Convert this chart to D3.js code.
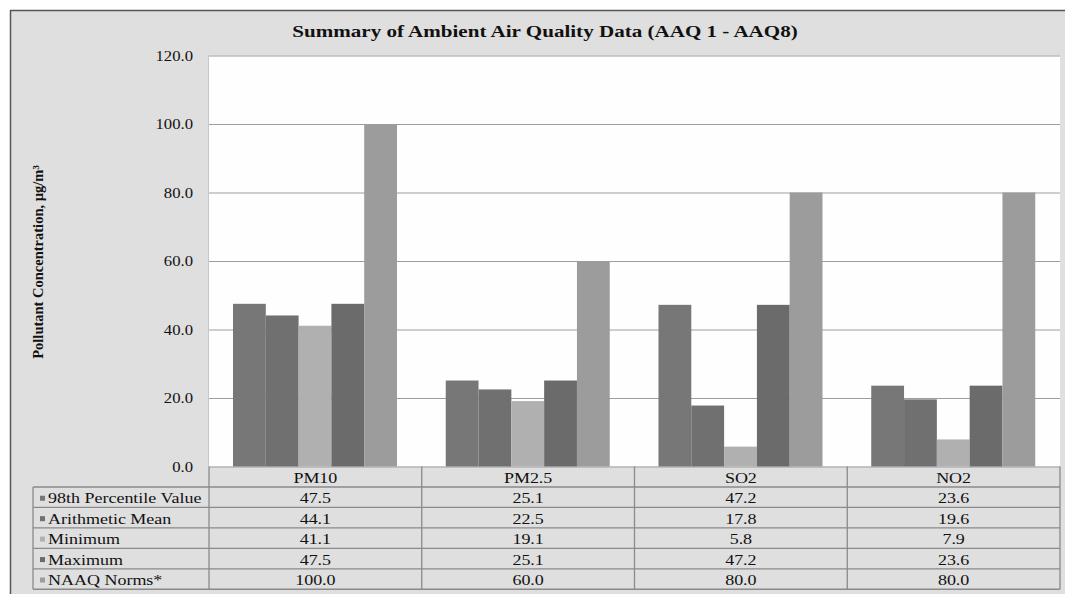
<!DOCTYPE html>
<html>
<head>
<meta charset="utf-8">
<script src="https://cdn.jsdelivr.net/npm/d3@7"></script>
<style>
  html, body { margin: 0; padding: 0; background: #ffffff; }
  svg { display: block; }
  text { font-family: "Liberation Serif", "Times New Roman", serif; fill: #111; }
</style>
</head>
<body>
<svg id="chart" width="1065" height="594"></svg>
<script>
// Pollutant categories and the five series shown per category (µg/m³)
const categories = ["PM10", "PM2.5", "SO2", "NO2"];
const seriesNames = ["98th Percentile Value", "Arithmetic Mean", "Minimum", "Maximum", "NAAQ Norms*"];
const percentile98 = [47.5, 25.1, 47.2, 23.6];
const arithmeticMean = [44.1, 22.5, 17.8, 19.6];
const minimum = [41.1, 19.1, 5.8, 7.9];
const maximum = [47.5, 25.1, 47.2, 23.6];
const naaqNorms = [100.0, 60.0, 80.0, 80.0];
const yTicks = [0, 20, 40, 60, 80, 100, 120];

const seriesValues = [percentile98, arithmeticMean, minimum, maximum, naaqNorms];
const seriesColors = ["#777777", "#707070", "#b0b0b0", "#6b6b6b", "#9c9c9c"];

const svg = d3.select("#chart");
const W = 1065, H = 594;

// layout
const plot = { left: 209, right: 1060, top: 55.5, bottom: 466.5 };
const tableLeft = 33;
const headerBottom = 487;
const rowH = 20.45;
const sx = 1.2; // horizontal stretch of the serif lettering

// outer chart frame
svg.append("rect").attr("x", 0).attr("y", 0).attr("width", W).attr("height", H).attr("fill", "#ffffff");
svg.append("rect").attr("x", 10).attr("y", 10).attr("width", W - 10).attr("height", H - 10)
  .attr("fill", "#dfdfdf");
svg.append("line").attr("x1", 10).attr("x2", W).attr("y1", 10.5).attr("y2", 10.5)
  .attr("stroke", "#555").attr("stroke-width", 1.5);
svg.append("line").attr("x1", 10.5).attr("x2", 10.5).attr("y1", 10).attr("y2", H)
  .attr("stroke", "#555").attr("stroke-width", 1.5);

// scales
const x0 = d3.scaleBand().domain(categories).range([plot.left, plot.right]).padding(0);
const x1 = d3.scaleBand().domain(seriesNames).range([24, 188]).padding(0);
const y = d3.scaleLinear().domain([0, 120]).range([plot.bottom, plot.top]);

// plot area
svg.append("rect").attr("x", plot.left).attr("y", plot.top)
  .attr("width", plot.right - plot.left).attr("height", plot.bottom - plot.top)
  .attr("fill", "#fefefe");
svg.append("line").attr("x1", plot.left - 0.5).attr("x2", plot.left - 0.5)
  .attr("y1", plot.top).attr("y2", plot.bottom).attr("stroke", "#c8c8c8");

// gridlines
const grid = svg.append("g").attr("transform", `translate(${plot.left},0)`)
  .call(d3.axisRight(y).tickValues(yTicks).tickSize(plot.right - plot.left).tickFormat(""));
grid.select(".domain").remove();
grid.selectAll(".tick line").attr("stroke", "#9e9e9e").attr("stroke-width", 1.2);

// bars
const seriesData = seriesNames.map((name, i) => ({
  name, color: seriesColors[i],
  values: categories.map((c, j) => ({ category: c, value: seriesValues[i][j] }))
}));
const gSeries = svg.append("g").selectAll("g").data(seriesData).join("g")
  .attr("fill", d => d.color);
gSeries.selectAll("rect").data(d => d.values.map(v => ({ ...v, name: d.name }))).join("rect")
  .attr("x", d => x0(d.category) + x1(d.name))
  .attr("y", d => y(d.value))
  .attr("width", x1.bandwidth())
  .attr("height", d => y(0) - y(d.value));

// y axis labels
const yAxis = svg.append("g").attr("transform", `translate(${plot.left},0)`)
  .call(d3.axisLeft(y).tickValues(yTicks).tickSize(0).tickPadding(16).tickFormat(d3.format(".1f")));
yAxis.select(".domain").remove();
yAxis.selectAll(".tick text")
  .attr("font-family", "Liberation Serif, Times New Roman, serif")
  .attr("font-size", 14.5).attr("fill", "#222")
  .attr("x", -16 / 1.15)
  .attr("transform", `scale(1.15,1)`);

// helper for stretched text
function stext(parent, x, yy, str, opts = {}) {
  return parent.append("text")
    .attr("transform", `translate(${x},${yy}) scale(${opts.sx || sx},1)`)
    .attr("text-anchor", opts.anchor || "start")
    .attr("dominant-baseline", "central")
    .attr("font-size", opts.size || 15)
    .attr("font-weight", opts.weight || "normal")
    .text(str);
}

// title
stext(svg, 545, 31, "Summary of Ambient Air Quality Data (AAQ 1 - AAQ8)",
  { anchor: "middle", size: 17, weight: "bold", sx: 1.24 });

// y axis title
svg.append("text")
  .attr("transform", `translate(38,262) rotate(-90)`)
  .attr("text-anchor", "middle")
  .attr("dominant-baseline", "central")
  .attr("font-size", 14.5).attr("font-weight", "bold")
  .text("Pollutant Concentration, µg/m³");

// data table
const table = svg.append("g");
const lineColor = "#8a8a8a";
const rowEdges = d3.range(seriesNames.length + 1).map(i => headerBottom + i * rowH);

// horizontal row lines
table.selectAll("line.row").data(rowEdges).join("line")
  .attr("class", "row")
  .attr("x1", tableLeft).attr("x2", plot.right)
  .attr("y1", d => d).attr("y2", d => d)
  .attr("stroke", lineColor).attr("stroke-width", 1.3);

// vertical column lines
const colEdges = categories.map(c => x0(c)).concat([plot.right]);
table.selectAll("line.col").data(colEdges).join("line")
  .attr("class", "col")
  .attr("x1", d => d).attr("x2", d => d)
  .attr("y1", plot.bottom).attr("y2", rowEdges[rowEdges.length - 1])
  .attr("stroke", lineColor).attr("stroke-width", 1.3);
table.append("line")
  .attr("x1", tableLeft).attr("x2", tableLeft)
  .attr("y1", headerBottom).attr("y2", rowEdges[rowEdges.length - 1])
  .attr("stroke", lineColor).attr("stroke-width", 1.3);

// category header labels
categories.forEach(c => {
  stext(table, x0(c) + x0.bandwidth() / 2, (plot.bottom + headerBottom) / 2 + 1, c, { anchor: "middle" });
});

// series rows: legend key, name and values
seriesData.forEach((s, i) => {
  const cy = rowEdges[i] + rowH / 2 + 1;
  table.append("rect").attr("x", 40).attr("y", cy - 2.5).attr("width", 5).attr("height", 5)
    .attr("fill", s.color);
  stext(table, 48, cy, s.name);
  s.values.forEach(v => {
    stext(table, x0(v.category) + x0.bandwidth() / 2, cy, d3.format(".1f")(v.value), { anchor: "middle" });
  });
});
</script>
</body>
</html>
